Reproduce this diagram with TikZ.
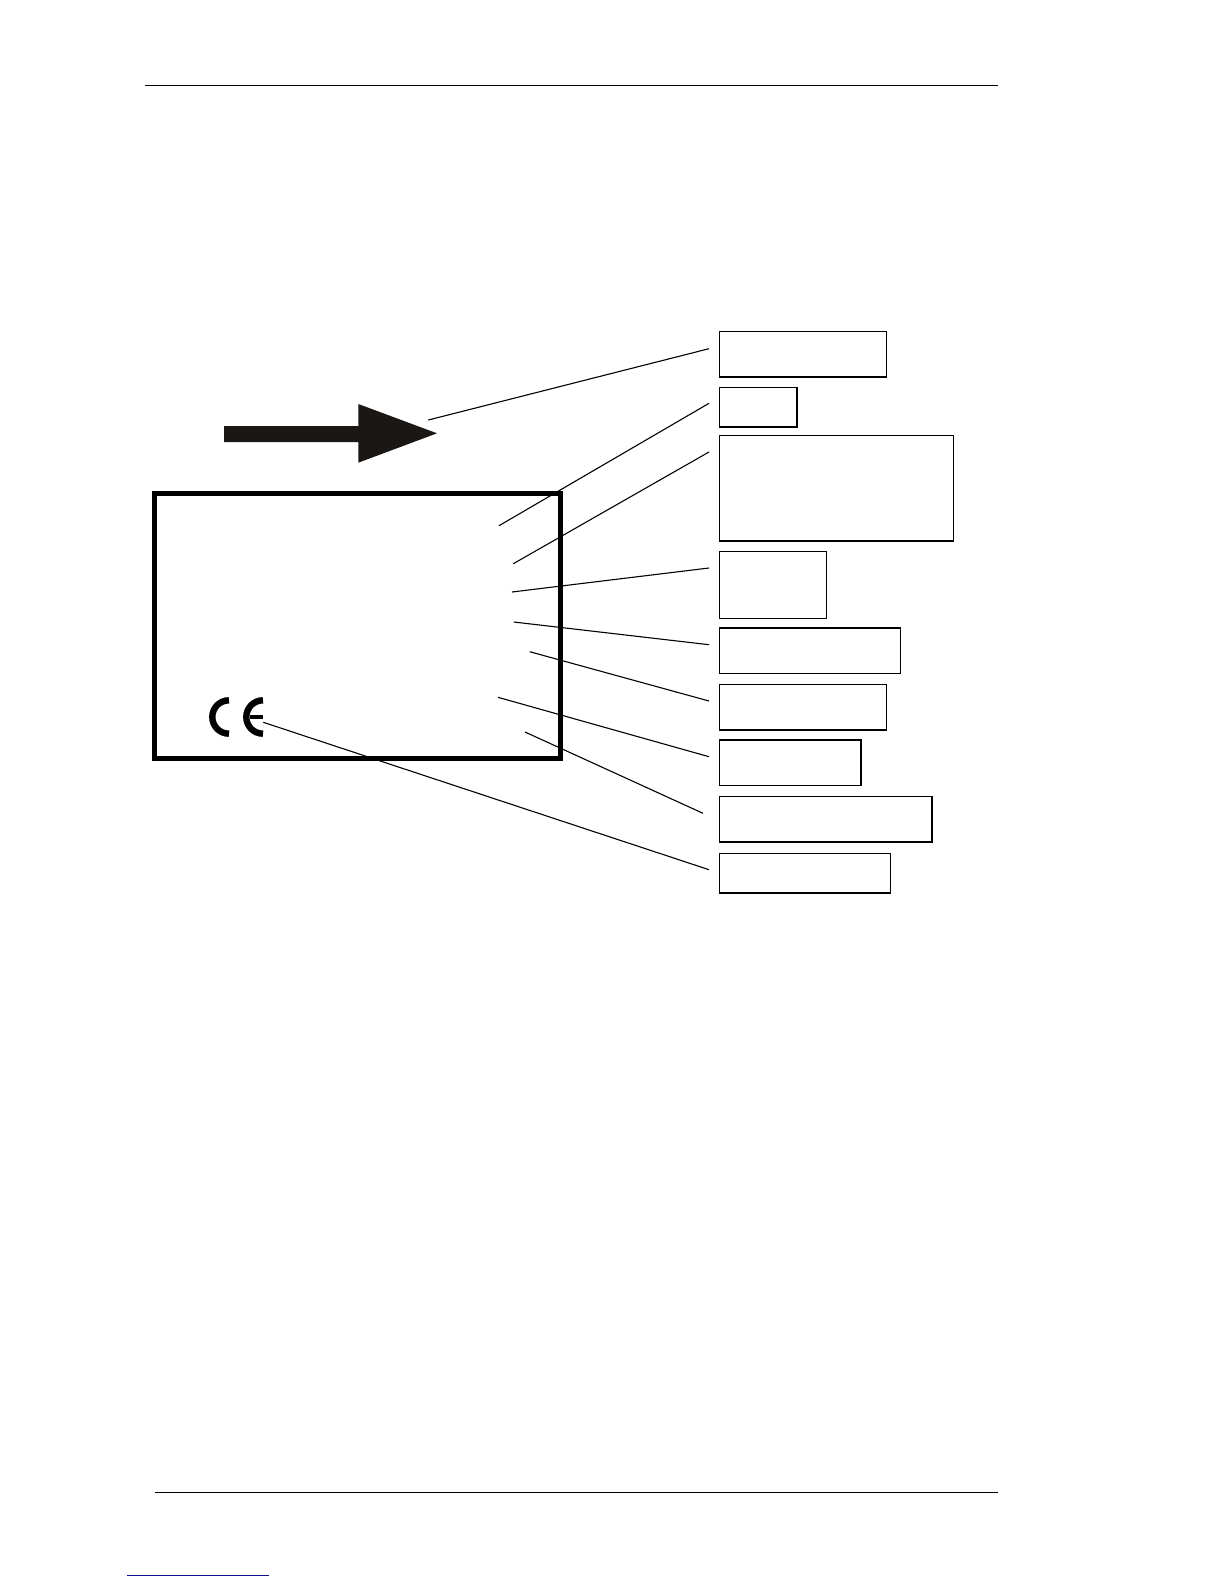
\documentclass[tikz,border=0pt]{standalone}
\definecolor{arrowblack}{HTML}{1A1715}
\definecolor{linkblue}{HTML}{10108A}
\tikzset{
  labelbox/.style={draw=black,line width=0.5pt,rectangle,inner sep=0pt,outer sep=0pt},
  plate/.style={draw=black,line width=2.35pt,rectangle,inner sep=0pt,outer sep=0pt},
  edgeheavy/.style={draw=black,line width=0.95pt},
  leader/.style={draw=black,line width=0.55pt},
  rule/.style={draw=black,line width=0.5pt},
  ce/.style={draw=black,line width=3.2pt},
}
\newcommand{\boxat}[6][labelbox]{%
  \pgfmathsetmacro\bw{(#4-#2)*0.5}\pgfmathsetmacro\bh{(#5-#3)*0.5}%
  \node[#1,minimum width=\bw pt,minimum height=\bh pt] (#6) at ({(#2+#4)/2},{(#3+#5)/2}) {};}
\begin{document}
\begin{tikzpicture}[x=0.5pt,y=-0.5pt]
\useasboundingbox (0,0) rectangle (1224,1584);
% page rules
\coordinate (topL) at (144.5,86); \coordinate (topR) at (998,86);
\coordinate (botL) at (155,1492.3); \coordinate (botR) at (998,1492.3);
\coordinate (linkL) at (127,1575.3); \coordinate (linkR) at (269,1575.3);
\draw[rule] (topL) -- (topR);
\draw[rule,line width=0.6pt] (botL) -- (botR);
\draw[draw=linkblue,line width=0.6pt] (linkL) -- (linkR);
% direction arrow
\fill[arrowblack] (224,426) -- (358.3,426) -- (358.3,404) -- (437,433.3) -- (358.3,462.7) -- (358.3,442) -- (224,442) -- cycle;
% leader ends
\coordinate (a1) at (428.3,420);   \coordinate (z1) at (709,348.7);
\coordinate (a2) at (499,525.7);   \coordinate (z2) at (709,403.3);
\coordinate (a3) at (513.3,563.7); \coordinate (z3) at (709,452);
\coordinate (a4) at (512,592);     \coordinate (z4) at (709,568);
\coordinate (a5) at (513.7,622);   \coordinate (z5) at (709,644.7);
\coordinate (a6) at (529.7,651.7); \coordinate (z6) at (709,701);
\coordinate (a7) at (498,697.3);   \coordinate (z7) at (709,756.7);
\coordinate (a8) at (525,732);     \coordinate (z8) at (703,813.3);
\coordinate (a9) at (263.3,722.3); \coordinate (z9) at (709,869.7);
\foreach \i in {1,...,9} {\draw[leader] (a\i) -- (z\i);}
% plate
\boxat[plate]{154.5}{493.3}{560.3}{758.3}{plate}
% CE mark
\coordinate (cC) at (229,717); \coordinate (cE) at (263,717);
\draw[ce] ([yshift=8.35pt]cC) arc[start angle=90,end angle=270,radius=8.35pt];
\draw[ce] ([yshift=8.35pt]cE) arc[start angle=90,end angle=270,radius=8.35pt];
\draw[draw=black,line width=2pt] ([xshift=-6.5pt]cE) -- (cE);
% label boxes
\boxat{719.3}{331.3}{886.7}{377}{b1}
\boxat{719.3}{387.3}{797.3}{427.3}{b2}
\boxat{719.3}{435.3}{953.7}{541}{b3}
\boxat{719.3}{551}{826.7}{618.3}{b4}
\boxat{719.3}{627.7}{900.7}{673.3}{b5}
\boxat{719.3}{684.3}{886.7}{730}{b6}
\boxat{719.3}{739.7}{861.3}{785.3}{b7}
\boxat{719.3}{796.3}{932.3}{842}{b8}
\boxat{719.3}{853.3}{890.7}{893.3}{b9}
% heavier edges
\draw[edgeheavy] (b1.south west) -- (b1.south east);
\draw[edgeheavy] (b2.south west) -- (b2.south east) -- (b2.north east);
\draw[edgeheavy] (b3.south west) -- (b3.south east);
\draw[edgeheavy] (b5.north west) -- (b5.north east);
\draw[edgeheavy] (b6.south west) -- (b6.south east);
\draw[edgeheavy] (b7.north west) -- (b7.north east) -- (b7.south east);
\draw[edgeheavy] (b8.south west) -- (b8.south east) -- (b8.north east);
\draw[edgeheavy] (b9.south west) -- (b9.south east);
\end{tikzpicture}
\end{document}
